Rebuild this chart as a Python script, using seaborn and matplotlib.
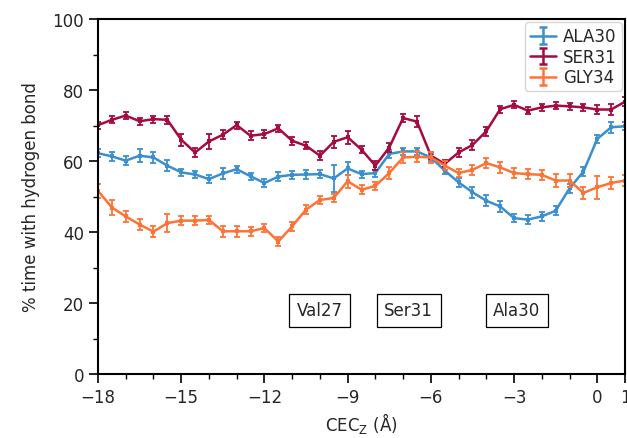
import numpy as np
import pandas as pd
import matplotlib
matplotlib.use("Agg")
import matplotlib.pyplot as plt
import seaborn as sns

# CEC_z positions (Å)
cec_z = [-18.0, -17.5, -17.0, -16.5, -16.0, -15.5, -15.0, -14.5, -14.0, -13.5,
         -13.0, -12.5, -12.0, -11.5, -11.0, -10.5, -10.0, -9.5, -9.0, -8.5,
         -8.0, -7.5, -7.0, -6.5, -6.0, -5.5, -5.0, -4.5, -4.0, -3.5,
         -3.0, -2.5, -2.0, -1.5, -1.0, -0.5, 0.0, 0.5, 1.0]

ala30 = [62.2, 61.3, 60.1, 61.5, 61.0, 58.7, 56.8, 56.2, 54.9, 56.5,
         57.7, 55.7, 53.8, 55.6, 56.1, 56.2, 56.3, 55.1, 57.9, 56.3,
         56.6, 62.0, 62.7, 62.7, 61.0, 57.3, 54.0, 51.2, 48.8, 47.2,
         43.9, 43.5, 44.4, 46.0, 52.3, 57.0, 66.2, 69.5, 69.8]
ala30_err = [1.2, 1.2, 1.2, 1.8, 1.5, 1.5, 1.0, 1.0, 1.2, 1.5,
             1.0, 1.0, 1.0, 1.2, 1.2, 1.2, 1.2, 3.8, 1.8, 1.0,
             1.0, 1.2, 1.0, 1.0, 1.0, 1.0, 1.2, 1.5, 1.5, 1.5,
             1.2, 1.2, 1.2, 1.2, 1.2, 1.3, 1.2, 1.5, 1.2]

ser31 = [70.1, 71.6, 72.8, 71.2, 71.8, 71.6, 66.0, 62.4, 65.5, 67.4,
         70.1, 67.1, 67.6, 69.2, 65.7, 64.3, 61.5, 65.4, 66.7, 63.2,
         58.7, 63.8, 72.1, 71.1, 61.5, 59.2, 62.4, 64.5, 68.4, 74.6,
         75.8, 74.2, 75.1, 75.6, 75.4, 75.1, 74.5, 74.5, 76.7]
ser31_err = [1.0, 1.0, 1.0, 1.0, 1.0, 1.2, 1.7, 1.3, 2.0, 1.2,
             1.0, 1.3, 1.0, 1.0, 1.2, 1.0, 1.2, 1.6, 1.8, 1.0,
             1.2, 1.2, 1.2, 1.5, 1.0, 1.0, 1.2, 1.3, 1.3, 1.0,
             1.0, 1.0, 1.0, 1.0, 1.0, 1.0, 1.2, 1.5, 1.2]

gly34 = [51.6, 46.9, 44.4, 42.1, 40.1, 42.5, 43.2, 43.2, 43.4, 40.2,
         40.2, 40.2, 41.1, 37.3, 41.6, 46.3, 49.0, 49.6, 54.3, 51.9,
         53.0, 56.6, 61.0, 61.2, 61.0, 58.7, 56.6, 57.5, 59.4, 58.2,
         56.6, 56.3, 56.1, 54.5, 54.5, 51.0, 52.6, 53.8, 54.5]
gly34_err = [2.0, 2.2, 1.5, 1.5, 1.5, 2.6, 1.2, 1.2, 1.2, 1.5,
             1.5, 1.2, 1.2, 1.2, 1.2, 1.2, 1.2, 1.2, 1.8, 1.2,
             1.2, 1.8, 1.5, 1.5, 1.5, 1.2, 1.2, 1.5, 1.5, 1.5,
             1.5, 1.5, 1.5, 1.8, 1.8, 1.8, 3.3, 1.8, 1.5]

series_names = ["ALA30", "SER31", "GLY34"]
colors = ["#3A8FD0", "#A50A41", "#FF7236"]

annot_labels = ["Val27", "Ser31", "Ala30"]
annot_x = [-10.0, -6.8, -2.9]
annot_y = [18.0, 18.0, 18.0]

sns.set_theme(style="ticks")
plt.rcParams["font.family"] = ["DejaVu Sans"]

fig = plt.figure(figsize=(6.27, 4.39), dpi=100)
ax = fig.add_axes([98 / 627, 1 - 375 / 439, 527 / 627, 355 / 439])

vals = [ala30, ser31, gly34]
errs = [ala30_err, ser31_err, gly34_err]
handles = []
for name, v, e, c in zip(series_names, vals, errs, colors):
    df = pd.DataFrame({"x": cec_z, "y": v})
    sns.lineplot(data=df, x="x", y="y", ax=ax, color=c, lw=1.8,
                 marker="s", markersize=3.5, markeredgewidth=0,
                 legend=False)
    ax.errorbar(cec_z, v, yerr=e, fmt="none", ecolor=c, elinewidth=1.3,
                capsize=2.5, capthick=1.3)
    h = ax.errorbar([np.nan], [np.nan], yerr=[1], fmt="-", color=c,
                    lw=1.8, elinewidth=1.8, capsize=3, capthick=1.8,
                    label=name)
    handles.append(h)

for t, x, y in zip(annot_labels, annot_x, annot_y):
    ax.text(x, y, t, ha="center", va="center", fontsize=12,
            bbox=dict(boxstyle="square,pad=0.45", fc="white", ec="black", lw=0.9))

ax.set_xlim(-18, 1)
ax.set_ylim(0, 100)
ax.set_xticks([-18, -15, -12, -9, -6, -3, 0, 1])
ax.set_xticks(np.arange(-18, 1.01, 1), minor=True)
ax.set_yticks([0, 20, 40, 60, 80, 100])
ax.set_yticks(np.arange(0, 101, 10), minor=True)
ax.tick_params(axis="both", which="major", labelsize=12, length=6.5, width=1.2,
               color="black", direction="out", pad=3.5)
ax.tick_params(axis="both", which="minor", length=3.5, width=1.0,
               color="black", direction="out")
for s in ax.spines.values():
    s.set_color("black")
    s.set_linewidth(1.5)

ax.set_xlabel(r"CEC$_\mathrm{Z}$ (Å)", fontsize=12, labelpad=3)
ax.set_ylabel("% time with hydrogen bond", fontsize=12, labelpad=9)

ax.legend(handles=handles, labels=series_names, loc="upper right",
          fontsize=12, frameon=True, handlelength=1.6, handletextpad=0.4,
          borderpad=0.3, labelspacing=0.15, borderaxespad=0.2)

fig.savefig("out.png", dpi=100)
